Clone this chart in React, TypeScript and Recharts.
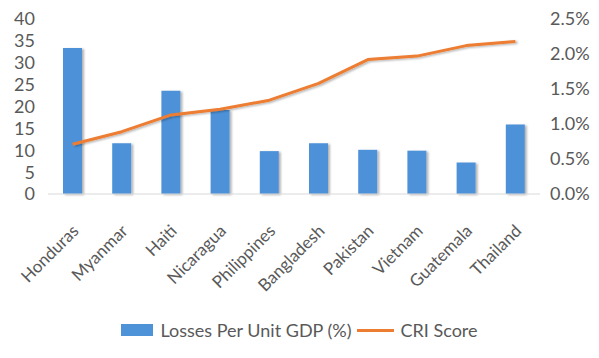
import { ComposedChart, Bar, Line, XAxis, YAxis, Legend } from 'recharts'

const countries = [
  'Honduras',
  'Myanmar',
  'Haiti',
  'Nicaragua',
  'Philippines',
  'Bangladesh',
  'Pakistan',
  'Vietnam',
  'Guatemala',
  'Thailand',
]
const losses = [33.4, 11.6, 23.6, 19.2, 9.8, 11.6, 10.1, 9.9, 7.2, 15.9]
const cri = [0.0071, 0.0089, 0.0113, 0.0121, 0.0134, 0.0158, 0.0192, 0.0197, 0.0212, 0.0218]
const leftTicks = [0, 5, 10, 15, 20, 25, 30, 35, 40]
const rightTicks = [0, 0.005, 0.01, 0.015, 0.02, 0.025]

const BLUE = '#4e92d8'
const ORANGE = '#ed7d31'
const TEXT = '#595959'
const FONT = 'Lato, "Liberation Sans", sans-serif'

const data = countries.map((c, i) => ({ country: c, losses: losses[i], cri: cri[i] }))

function CountryTick(props: any) {
  const { x, y, payload } = props
  return (
    <text
      x={x + 7}
      y={y + 30}
      transform={`rotate(-45, ${x + 7}, ${y + 30})`}
      textAnchor="end"
      fill={TEXT}
      fontSize={17}
      fontFamily={FONT}
    >
      {payload.value}
    </text>
  )
}

function ChartLegend() {
  return (
    <div
      style={{
        display: 'flex',
        justifyContent: 'center',
        alignItems: 'center',
        height: 30,
        fontFamily: FONT,
        fontSize: 18,
        color: TEXT,
      }}
    >
      <span style={{ width: 32, height: 12, background: BLUE, marginRight: 7 }} />
      <span>Losses Per Unit GDP (%)</span>
      <span style={{ width: 37, height: 3, background: ORANGE, marginLeft: 5, marginRight: 7 }} />
      <span>CRI Score</span>
    </div>
  )
}

export default function App() {
  return (
    <div style={{ width: 599, height: 358, background: '#fff' }}>
      <style>{'body{margin:0}'}</style>
      <ComposedChart
        width={599}
        height={358}
        data={data}
        margin={{ top: 19, right: 0, left: 0, bottom: 13 }}
      >
        <defs>
          <filter id="shadow" x="-20%" y="-20%" width="160%" height="140%">
            <feDropShadow dx="2" dy="1" stdDeviation="1" floodColor="#000" floodOpacity="0.3" />
          </filter>
        </defs>
        <XAxis
          dataKey="country"
          height={121}
          tickLine={false}
          axisLine={{ stroke: '#d9d9d9' }}
          interval={0}
          tick={<CountryTick />}
        />
        <YAxis
          yAxisId="left"
          width={48}
          domain={[0, 40]}
          ticks={leftTicks}
          interval={0}
          axisLine={false}
          tickLine={false}
          tickSize={0}
          tickMargin={13}
          tick={{ fill: TEXT, fontSize: 18, fontFamily: FONT }}
        />
        <YAxis
          yAxisId="right"
          orientation="right"
          width={59}
          domain={[0, 0.025]}
          ticks={rightTicks}
          interval={0}
          axisLine={false}
          tickLine={false}
          tickSize={0}
          tickMargin={10}
          tickFormatter={(v: number) => (v * 100).toFixed(1) + '%'}
          tick={{ fill: TEXT, fontSize: 18, fontFamily: FONT, textAnchor: 'start' }}
        />
        <Legend verticalAlign="bottom" content={<ChartLegend />} />
        <Bar
          yAxisId="left"
          dataKey="losses"
          name="Losses Per Unit GDP (%)"
          fill={BLUE}
          barSize={19}
          filter="url(#shadow)"
          isAnimationActive={false}
        />
        <Line
          yAxisId="right"
          dataKey="cri"
          name="CRI Score"
          type="linear"
          stroke={ORANGE}
          strokeWidth={3}
          strokeLinejoin="round"
          dot={false}
          filter="url(#shadow)"
          isAnimationActive={false}
        />
      </ComposedChart>
    </div>
  )
}
